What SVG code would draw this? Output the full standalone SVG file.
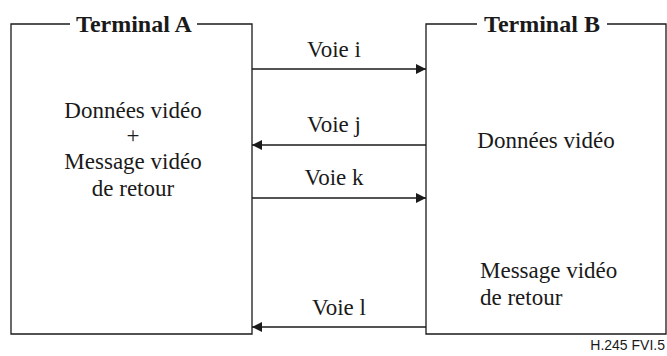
<svg xmlns="http://www.w3.org/2000/svg" width="667" height="356" viewBox="0 0 667 356">
<defs>
<style>
.box{fill:none;stroke:#1a1a1a;stroke-width:1.3}
.conn{stroke:#1a1a1a;stroke-width:1.3;fill:none}
.lbl{font-family:'Liberation Serif','Times New Roman',serif;font-size:23px;fill:#1a1a1a}
.title{font-family:'Liberation Serif','Times New Roman',serif;font-size:24px;font-weight:bold;fill:#1a1a1a}
.foot{font-family:'Liberation Sans',Arial,sans-serif;font-size:14px;fill:#1a1a1a}
</style>
<marker id="ah" viewBox="0 0 10 10" refX="10" refY="5" markerWidth="14" markerHeight="10" markerUnits="userSpaceOnUse" orient="auto">
<path d="M0,0 L10,5 L0,10 Z" fill="#1a1a1a"/>
</marker>
</defs>
<rect width="667" height="356" fill="#fff"/>
<g id="terminalA">
<path class="box" d="M70,24 H11 V334 H252 V24 H197"/>
<text class="title" x="134" y="32" text-anchor="middle">Terminal A</text>
<text class="lbl" x="133" y="118" text-anchor="middle">Données vidéo</text>
<text class="lbl" x="133" y="143" text-anchor="middle">+</text>
<text class="lbl" x="133" y="169" text-anchor="middle">Message vidéo</text>
<text class="lbl" x="133" y="196" text-anchor="middle">de retour</text>
</g>
<g id="terminalB">
<path class="box" d="M477,24 H426 V334 H666 V24 H607"/>
<text class="title" x="542" y="32" text-anchor="middle">Terminal B</text>
<text class="lbl" x="546" y="148" text-anchor="middle">Données vidéo</text>
<text class="lbl" x="480" y="278">Message vidéo</text>
<text class="lbl" x="480" y="305">de retour</text>
</g>
<g id="connectors">
<line class="conn" x1="252" y1="69" x2="426" y2="69" marker-end="url(#ah)"/>
<line class="conn" x1="426" y1="145" x2="252" y2="145" marker-end="url(#ah)"/>
<line class="conn" x1="252" y1="198" x2="426" y2="198" marker-end="url(#ah)"/>
<line class="conn" x1="426" y1="327" x2="252" y2="327" marker-end="url(#ah)"/>
<text class="lbl" x="334" y="57" text-anchor="middle">Voie i</text>
<text class="lbl" x="334" y="132" text-anchor="middle">Voie j</text>
<text class="lbl" x="334" y="185" text-anchor="middle">Voie k</text>
<text class="lbl" x="339" y="315" text-anchor="middle">Voie l</text>
</g>
<text class="foot" x="665" y="350" text-anchor="end">H.245  FVI.5</text>
</svg>
